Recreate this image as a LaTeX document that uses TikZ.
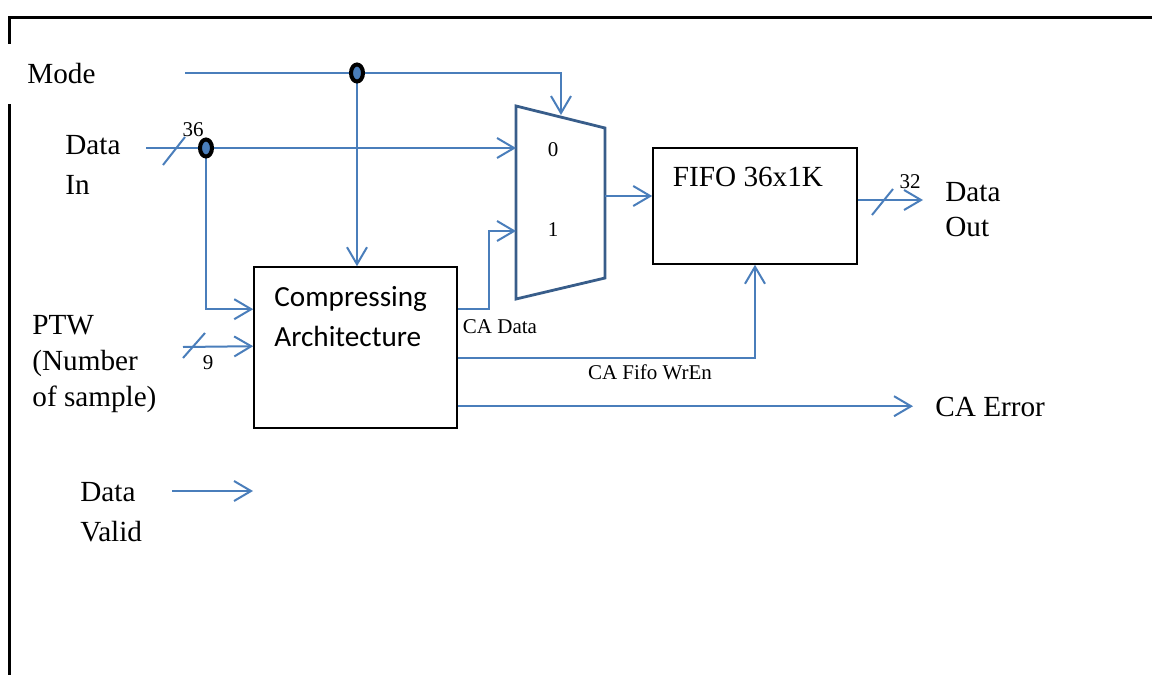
\documentclass[tikz,border=0pt]{standalone}
\usepackage{fontspec}
\setmainfont{Liberation Serif}
\newfontfamily\cafont{Carlito}
\usetikzlibrary{positioning,arrows.meta,calc,shapes.geometric}
\definecolor{wireblue}{HTML}{4A7EBB}
\definecolor{muxblue}{HTML}{385D8A}
\tikzset{
  wire/.style      = {draw=wireblue, line width=1pt},
  sig/.style       = {wire, -{Straight Barb[length=8.5pt,width=10pt]}},
  blockbox/.style  = {draw=black, line width=0.8pt, inner sep=0pt},
  muxbox/.style    = {draw=muxblue, line width=1.4pt, line join=miter},
  tap/.style       = {ellipse, draw=black, line width=2pt, fill=wireblue,
                      minimum width=6pt, minimum height=8.5pt, inner sep=0pt},
  port/.style      = {font=\fontsize{14.6}{20}\selectfont, align=left,
                      anchor=west, inner sep=0pt},
  tag/.style       = {font=\fontsize{10.5}{12}\selectfont, inner sep=0pt},
  frameline/.style = {draw=black, line width=1.5pt}
}
\begin{document}
\begin{tikzpicture}[x=0.5pt,y=-0.5pt]
  \useasboundingbox (0,0) rectangle (1152,675);
  \draw[frameline] (9,675) -- (9,17) -- (1152,17);

  % Blocks
  \node[blockbox, minimum width=101.5pt, minimum height=80.5pt] (ca)   at (355.5,347.5) {};
  \node[blockbox, minimum width=102pt,   minimum height=58pt]   (fifo) at (755,206) {};
  \node[port, font=\cafont\fontsize{14.6}{20}\selectfont] (catext) at (274,317) {Compressing\\Architecture};
  \node[port, anchor=center] (fifotext) at (748,177) {FIFO 36x1K};

  \draw[muxbox] (516,106) -- (605,128) -- (605,278) -- (516,299) -- cycle;
  \coordinate (muxsel) at (561,115);
  \coordinate (mux0)   at (516,148);
  \coordinate (mux1)   at (516,231);
  \coordinate (muxout) at (605,196);
  \node[tag] (sel0) at (553,150) {0};
  \node[tag] (sel1) at (553,230) {1};

  % Ports
  \coordinate (modein)  at (185,73);
  \coordinate (modetap) at (357,73);
  \coordinate (dinin)   at (146,148);
  \coordinate (dintap)  at (206,148);
  \coordinate (ptwin)   at (183,347);
  \coordinate (dvin)    at (172,491);
  \coordinate (dvend)   at (253,491);
  \coordinate (ca_in1)  at ($(ca.north west)+(0,43)$);
  \coordinate (ca_in2)  at ($(ca.north west)+(0,80)$);
  \coordinate (ca_o1)   at ($(ca.north east)+(0,43)$);
  \coordinate (ca_o2)   at ($(ca.north east)+(0,92)$);
  \coordinate (ca_o3)   at ($(ca.north east)+(0,140)$);
  \coordinate (fifo_out) at (fifo.east |- 0,200);
  \coordinate (doutend) at (923,200);
  \coordinate (errend)  at (913,407);

  \draw[wire] (modein) -- (modetap);
  \draw[sig]  (modetap) -| (muxsel);
  \draw[sig]  (modetap) -- (modetap |- ca.north);
  \draw[wire] (dinin) -- (dintap);
  \draw[sig]  (dintap) -- (mux0);
  \draw[sig]  (dintap) |- (ca_in1);
  \draw[sig]  (ptwin) -- (ca_in2);
  \draw[sig]  (dvin) -- (dvend);
  \draw[sig]  (ca_o1) -- ++(31,0) |- (mux1);
  \draw[sig]  (ca_o2) -| (fifo.south);
  \draw[sig]  (ca_o3) -- (ca_o3 -| errend);
  \draw[sig]  (muxout) -- (muxout -| fifo.west);
  \draw[sig]  (fifo_out) -- (doutend);

  % Bus widths
  \draw[wire] (163,165) -- (185,137);
  \draw[wire] (183,358) -- (205,333);
  \draw[wire] (872,215) -- (893,189);
  \node[tag] (w36) at (193,130) {36};
  \node[tag] (w9)  at (208,363) {9};
  \node[tag] (w32) at (910,182) {32};

  \node[tap] (modedot) at (modetap) {};
  \node[tap] (dindot)  at (dintap) {};

  % Labels
  \node[port, fill=white, inner xsep=11.5pt, minimum height=30pt] (mode) at (4,74) {Mode};
  \node[port] (din)  at (65,165) {Data\\In};
  \node[port, font=\fontsize{14.6}{18}\selectfont] (ptw) at (32,364) {PTW\\(Number\\of sample)};
  \node[port] (dv)   at (80,512) {Data\\Valid};
  \node[port, font=\fontsize{14.6}{17.5}\selectfont, right=11pt of doutend, yshift=-5pt] (dout) {Data\\Out};
  \node[port, right=11pt of errend] (caerr) {CA Error};
  \node[tag] (cadata) at (500,327) {CA Data};
  \node[tag] (cawren) at (650,372) {CA Fifo WrEn};
\end{tikzpicture}
\end{document}
